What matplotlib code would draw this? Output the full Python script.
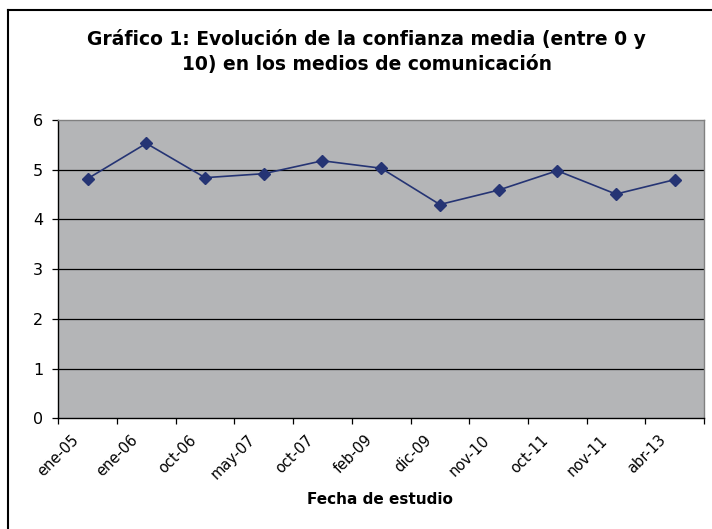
import numpy as np
import matplotlib.pyplot as plt
from matplotlib.lines import Line2D
from matplotlib.transforms import ScaledTranslation

plt.rcParams['font.family'] = ['DejaVu Sans']

# datos
fechas = ["ene-05", "ene-06", "oct-06", "may-07", "oct-07", "feb-09",
          "dic-09", "nov-10", "oct-11", "nov-11", "abr-13"]
confianza = [4.82, 5.53, 4.84, 4.92, 5.18, 5.03, 4.30, 4.59, 4.98, 4.51, 4.80]
y_ticks = [0, 1, 2, 3, 4, 5, 6]

W, H = 712, 529
fig = plt.figure(figsize=(W / 100, H / 100), dpi=100)
ax = fig.add_axes([58.3 / W, 1 - 418.3 / H, 645.7 / W, 298.3 / H])

# marco exterior (solo arriba e izquierda visibles)
fig.lines.append(Line2D([8 / W, 1.0], [1 - 10 / H, 1 - 10 / H], transform=fig.transFigure,
                        color='black', linewidth=1.5))
fig.lines.append(Line2D([8 / W, 8 / W], [0, 1 - 10 / H], transform=fig.transFigure,
                        color='black', linewidth=1.5))

x = np.arange(len(fechas))
ax.set_facecolor('#b4b5b7')
for v in y_ticks[1:-1]:
    ax.axhline(v, color='black', linewidth=0.9, zorder=1)
ax.plot(x, confianza, color='#253474', linewidth=1.2, marker='D',
        markersize=6, markerfacecolor='#253474', markeredgecolor='#253474', zorder=3)

ax.set_xlim(-0.5, len(fechas) - 0.5)
ax.set_ylim(0, 6)
ax.set_yticks(y_ticks)
ax.set_yticklabels([str(v) for v in y_ticks], fontsize=11.5)
ax.set_xticks(np.arange(len(fechas) + 1) - 0.5)
ax.set_xticklabels([])
ax.set_xticks(x, minor=True)
ax.set_xticklabels(fechas, minor=True, rotation=45, ha='right', va='center',
                   rotation_mode='anchor', fontsize=10.5)
ax.tick_params(axis='x', which='minor', length=0, pad=14)
ax.tick_params(axis='x', which='major', length=4.3, width=0.9, direction='out')
ax.tick_params(axis='y', length=4.3, width=0.9, direction='out', pad=6.5)
off = ScaledTranslation(-0.11, 0, fig.dpi_scale_trans)
for lab in ax.get_xticklabels(minor=True):
    lab.set_transform(lab.get_transform() + off)

ax.spines['left'].set_color('black')
ax.spines['bottom'].set_color('black')
ax.spines['top'].set_color('#808080')
ax.spines['right'].set_color('#808080')
for s in ax.spines.values():
    s.set_linewidth(1.0)

fig.text(380 / W, 1 - 500 / H, 'Fecha de estudio', ha='center', va='center',
         fontsize=11, fontweight='bold')

fig.text(366.5 / W, 1 - 51.5 / H,
         'Gráfico 1: Evolución de la confianza media (entre 0 y\n10) en los medios de comunicación',
         ha='center', va='center', fontsize=13.5, fontweight='bold', linespacing=1.4)

fig.savefig('out.png', dpi=100)
